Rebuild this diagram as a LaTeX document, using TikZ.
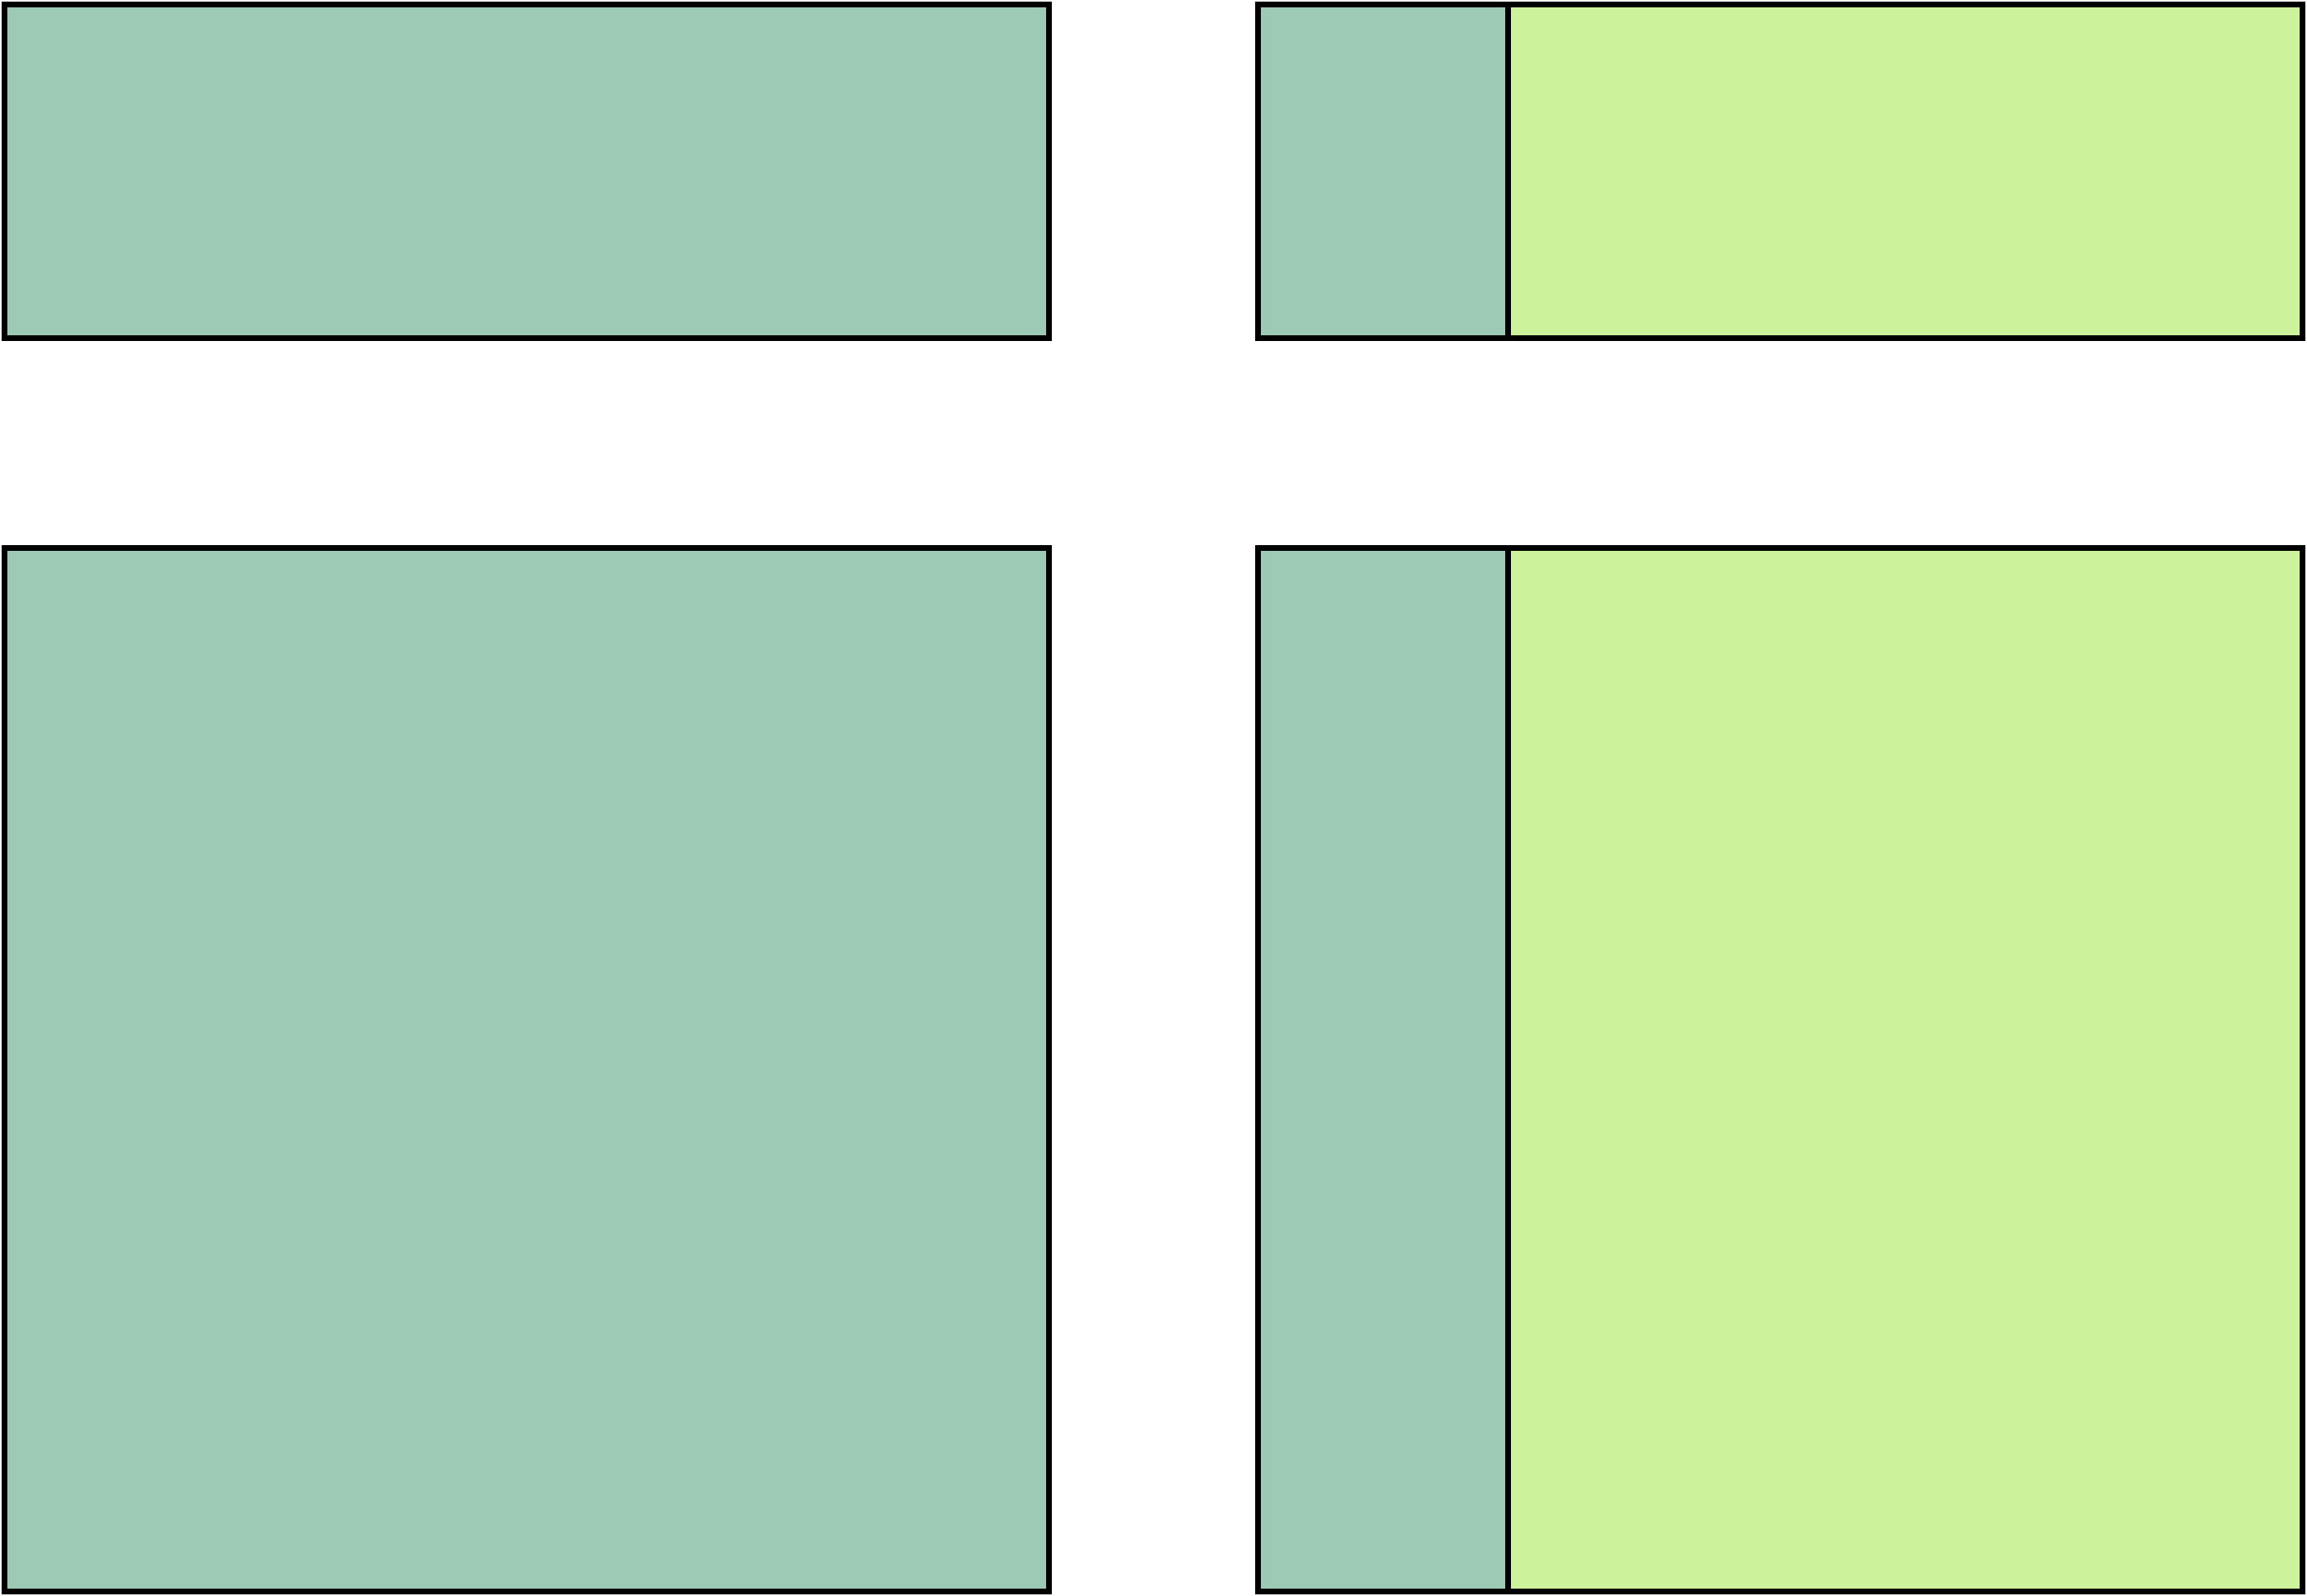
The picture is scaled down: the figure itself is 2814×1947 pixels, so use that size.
\documentclass[tikz,border=0pt]{standalone}
\definecolor{teal}{RGB}{156,202,180}
\definecolor{lime}{RGB}{204,242,156}
\begin{document}
\begin{tikzpicture}[x=0.5pt,y=-0.5pt,
  blk/.style={draw=black,line width=3.5pt,line join=miter}]
\useasboundingbox (0,0) rectangle (2814,1947);
% top row
\draw[blk,fill=teal] (5.5,5.5) rectangle (1279.5,412.5);
\draw[blk,fill=teal] (1534.5,5.5) rectangle (1839.5,412.5);
\draw[blk,fill=lime] (1839.5,5.5) rectangle (2808,412.5);
% bottom row
\draw[blk,fill=teal] (5.5,668.5) rectangle (1279.5,1941.5);
\draw[blk,fill=teal] (1534.5,668.5) rectangle (1839.5,1941.5);
\draw[blk,fill=lime] (1839.5,668.5) rectangle (2808,1941.5);
\end{tikzpicture}
\end{document}
